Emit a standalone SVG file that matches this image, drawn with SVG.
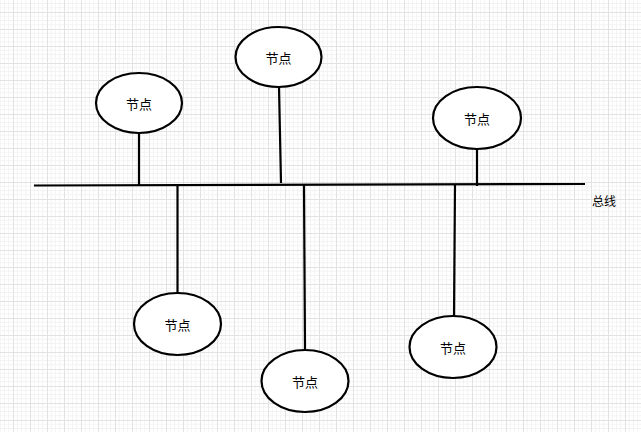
<svg xmlns="http://www.w3.org/2000/svg" width="641" height="432" viewBox="0 0 641 432">
<defs>
<pattern id="grid" x="13" y="12" width="17" height="17" patternUnits="userSpaceOnUse">
<path d="M4.25 0V17M8.5 0V17M12.75 0V17M0 4.25H17M0 8.5H17M0 12.75H17" stroke="#f3f3f3" stroke-width="1" fill="none"/>
<path d="M0.5 0V17M0 0.5H17" stroke="#e2e2e2" stroke-width="1" fill="none"/>
</pattern>
<style>
.node ellipse{fill:#fff;stroke:#000;stroke-width:2.2}
.node text{font-family:"Noto Sans CJK SC","Noto Sans CJK JP",sans-serif;font-size:13px;fill:#000;text-anchor:middle;dominant-baseline:central}
.conn line{stroke:#000;stroke-width:2.2}
.lbl{font-family:"Noto Sans CJK SC",sans-serif;font-size:12px;fill:#000;text-anchor:middle;dominant-baseline:central}
</style>
</defs>
<rect width="641" height="432" fill="#fff"/>
<rect width="641" height="432" fill="url(#grid)"/>
<g id="connectors" class="conn">
<line id="bus" x1="34" y1="185.5" x2="585" y2="184" stroke-width="2.6"/>
<line x1="139" y1="133" x2="139" y2="185"/>
<line x1="279" y1="87" x2="281" y2="183"/>
<line x1="477" y1="149" x2="477" y2="186"/>
<line x1="177.5" y1="185" x2="177.5" y2="294"/>
<line x1="304" y1="185" x2="305" y2="350"/>
<line x1="455" y1="184" x2="454" y2="316"/>
</g>
<g id="node1" class="node"><ellipse cx="139" cy="103" rx="43" ry="30"/><text x="139" y="103">节点</text></g>
<g id="node2" class="node"><ellipse cx="278.5" cy="57" rx="43" ry="30"/><text x="278.5" y="57">节点</text></g>
<g id="node3" class="node"><ellipse cx="477" cy="118" rx="44" ry="31"/><text x="477" y="118">节点</text></g>
<g id="node4" class="node"><ellipse cx="177.5" cy="324" rx="43.5" ry="31"/><text x="177.5" y="324">节点</text></g>
<g id="node5" class="node"><ellipse cx="305" cy="381" rx="43.5" ry="31"/><text x="305" y="381">节点</text></g>
<g id="node6" class="node"><ellipse cx="453" cy="347" rx="43.5" ry="31"/><text x="453" y="347">节点</text></g>
<text id="bus-label" class="lbl" x="604" y="200">总线</text>
</svg>
